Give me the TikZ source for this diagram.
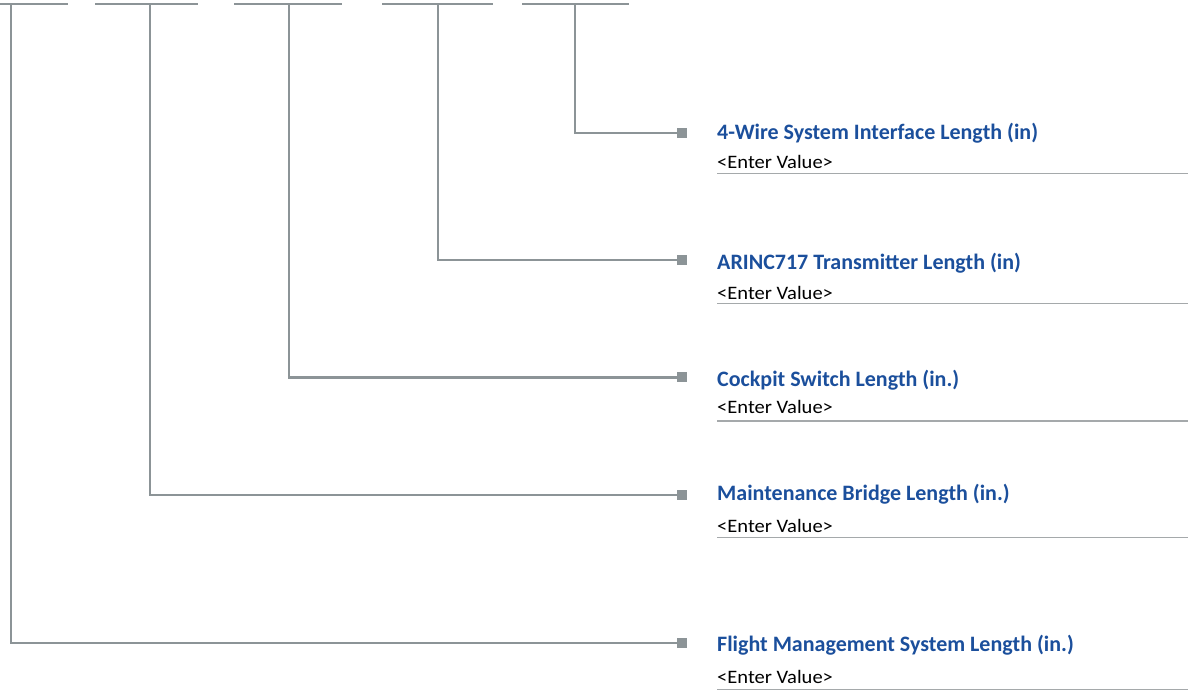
\documentclass[tikz,border=0pt]{standalone}
\usepackage{fontspec}
\setmainfont{Carlito}
\newfontfamily\titlefont{Carlito}
\newfontfamily\valfont[FakeStretch=1.08]{Carlito}
\definecolor{wire}{HTML}{8C9497}
\definecolor{ttl}{HTML}{1B4F9C}
\definecolor{uline}{HTML}{A5A9AB}
\tikzset{
  wireline/.style={draw=wire, line width=2.4pt},
  marker/.style={fill=wire, draw=none, minimum size=10pt, inner sep=0pt, rectangle},
  ttlnode/.style={anchor=base west, inner sep=0pt, text=ttl, font=\titlefont\bfseries\fontsize{22}{25}\selectfont},
  valnode/.style={anchor=base west, inner sep=0pt, text=black, font=\valfont\fontsize{19}{22}\selectfont},
  under/.style={draw=uline, line width=1.4pt},
}
\begin{document}
\begin{tikzpicture}[x=1pt,y=-1pt]
\useasboundingbox (0,0) rectangle (1191,689);
% top segments
\coordinate (s1a) at (0,4);   \coordinate (s1b) at (68,4);
\coordinate (s2a) at (95,4);  \coordinate (s2b) at (198,4);
\coordinate (s3a) at (234,4); \coordinate (s3b) at (342,4);
\coordinate (s4a) at (382,4); \coordinate (s4b) at (493,4);
\coordinate (s5a) at (522,4); \coordinate (s5b) at (629,4);
\foreach \i in {1,...,5} { \draw[wireline] (s\i a) -- (s\i b); }
% rows: vertical x, line y, title baseline, value baseline, underline y, label
\foreach \i/\xv/\yr/\yt/\yv/\yu/\lab in {
  5/575/132.7/139.3/168/173.3/{4-Wire System Interface Length (in)},
  4/438/260/269.3/299/303.3/{ARINC717 Transmitter Length (in)},
  3/289/377.3/386.7/413/421/{Cockpit Switch Length (in.)},
  2/150/495/500.7/532/537.3/{Maintenance Bridge Length (in.)},
  1/11/642.7/651.7/683/689.3/{Flight Management System Length (in.)}} {
  \coordinate (top\i) at (\xv,4);
  \coordinate (corner\i) at (\xv,\yr);
  \node[marker] (m\i) at (682,\yr) {};
  \draw[wireline] (top\i) -- (corner\i) -- (m\i.west);
  \node[ttlnode] (t\i) at (717,\yt) {\lab};
  \node[valnode] (v\i) at (717,\yv) {<Enter Value>};
  \coordinate (ua\i) at (717,\yu);
  \coordinate (ub\i) at (1188,\yu);
  \draw[under] (ua\i) -- (ub\i);
}
\end{tikzpicture}
\end{document}
